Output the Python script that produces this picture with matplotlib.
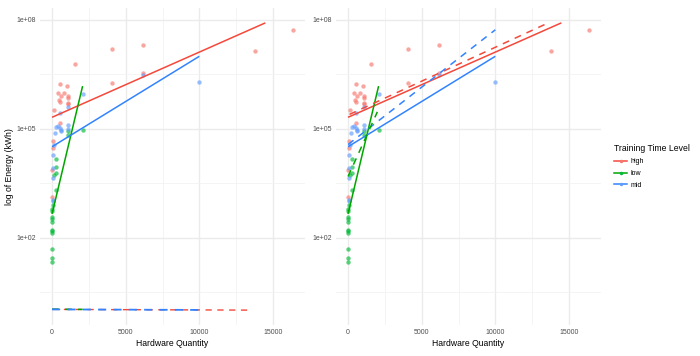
import numpy as np
import matplotlib
matplotlib.use("Agg")
import matplotlib.pyplot as plt
from matplotlib.lines import Line2D

plt.rcParams['font.family'] = ['Liberation Sans', 'DejaVu Sans']

# points: hardware quantity and log10 of energy (kWh)
levels = ['high', 'low', 'mid']
high_hw = [16350, 13750, 6150, 4100, 1560, 6150, 4100, 520, 1000, 430, 800, 590,
           1080, 1080, 440, 520, 1080, 1080, 150, 560, 90, 60, 0, 0]
high_log = [7.73, 7.14, 7.32, 7.19, 6.79, 6.55, 6.26, 6.23, 6.18, 5.98, 5.98, 5.91,
            5.90, 5.84, 5.79, 5.74, 5.72, 5.68, 5.52, 5.15, 4.67, 4.47, 3.88, 3.12]
low_hw = [2080, 1060, 1060, 300, 300, 300, 136, 270, 90, 0, 0, 0, 0, 0, 0, 0, 0, 0,
          0, 0]
low_log = [4.96, 4.95, 4.83, 4.18, 3.96, 3.78, 3.73, 3.31, 2.91, 2.79, 2.75, 2.57,
           2.52, 2.45, 2.23, 2.18, 2.14, 1.68, 1.45, 1.34]
mid_hw = [10000, 6150, 2080, 1060, 560, 300, 400, 520, 590, 590, 1060, 1060, 180,
          136, 90, 90, 45, 45, 45]
mid_log = [6.29, 6.48, 5.95, 5.61, 5.45, 5.05, 5.07, 5.03, 4.97, 4.93, 5.11, 5.01,
           4.88, 4.56, 4.27, 3.92, 3.66, 3.05, 3.02]

# fitted lines (start/end hardware, start/end log10 energy)
solid_hw = {'high': [0, 14480], 'low': [0, 2075], 'mid': [0, 10000]}
solid_log = {'high': [5.32, 7.92], 'low': [2.66, 6.18], 'mid': [4.51, 7.00]}
left_dash_hw = {'high': [0, 13300], 'low': [0, 2080], 'mid': [0, 10000]}
left_dash_log = {'high': [0.03, 0.01], 'low': [0.035, 0.03], 'mid': [0.03, 0.015]}
right_dash_hw = {'high': [100, 13650], 'mid': [0, 10000], 'low': [0, 1990]}
right_dash_log = {'high': [5.40, 7.93], 'mid': [4.57, 7.73], 'low': [3.69, 5.47]}

pts = {'high': (high_hw, high_log), 'low': (low_hw, low_log), 'mid': (mid_hw, mid_log)}
pt_col = {'high': '#F8766D', 'low': '#00BA38', 'mid': '#619CFF'}
ln_col = {'high': '#F5483A', 'low': '#00A600', 'mid': '#3283FF'}

fig = plt.figure(figsize=(7, 3.56), dpi=100)
W, H = 700, 356
axL = fig.add_axes([40 / W, 1 - 325 / H, 265 / W, 317 / H])
axR = fig.add_axes([336 / W, 1 - 325 / H, 265 / W, 317 / H])


def style(ax):
    ax.set_yscale('log')
    ax.set_xlim(-818, 17175)
    ax.set_ylim(10 ** -0.4, 10 ** 8.33)
    ax.set_xticks([0, 5000, 10000, 15000])
    ax.set_xticks([2500, 7500, 12500], minor=True)
    ax.set_yticks([1e2, 1e5, 1e8])
    ax.set_yticklabels(['1e+02', '1e+05', '1e+08'])
    ax.set_yticks([10 ** 0.5, 10 ** 3.5, 10 ** 6.5], minor=True)
    ax.yaxis.set_minor_formatter(plt.NullFormatter())
    ax.grid(True, which='major', color='#EBEBEB', lw=1.0)
    ax.grid(True, which='minor', color='#F3F3F3', lw=0.6)
    ax.set_axisbelow(True)
    for s in ax.spines.values():
        s.set_visible(False)
    ax.tick_params(which='both', length=0, labelsize=5, colors='#4D4D4D', pad=3)
    ax.set_xlabel('Hardware Quantity', fontsize=6.2, labelpad=2)


def draw(ax, dash_hw, dash_log, dash_lw):
    for lv in levels:
        x, lg = pts[lv]
        ax.scatter(x, 10 ** np.array(lg), s=10, color=pt_col[lv], alpha=0.65,
                   linewidths=0, zorder=2)
    for lv in levels:
        ax.plot(solid_hw[lv], 10 ** np.array(solid_log[lv]), color=ln_col[lv],
                lw=1.1, zorder=3, solid_capstyle='butt')
    for lv in dash_hw:
        ax.plot(dash_hw[lv], 10 ** np.array(dash_log[lv]), color=ln_col[lv],
                lw=dash_lw[lv], dashes=(4.5, 4), zorder=3)


draw(axL, left_dash_hw, left_dash_log, {'high': 1.0, 'low': 1.1, 'mid': 1.3})
draw(axR, right_dash_hw, right_dash_log, {'high': 1.1, 'low': 1.1, 'mid': 1.1})

style(axL)
style(axR)
axL.set_ylabel('log of Energy (kWh)', fontsize=6.2, labelpad=1.5)

handles = [Line2D([0], [0], color=ln_col[lv], lw=1.1, marker='o', markersize=2.5,
                  markerfacecolor=pt_col[lv], markeredgewidth=0) for lv in levels]
leg = fig.legend(handles, levels, title='Training Time Level', loc='upper left',
                 bbox_to_anchor=(608 / W, 1 - 138 / H), frameon=False, fontsize=5,
                 title_fontsize=6.2, handlelength=1.8, handletextpad=0.6,
                 labelspacing=0.7)
leg._legend_box.align = 'left'

fig.savefig('out.png', dpi=100, facecolor='white')
